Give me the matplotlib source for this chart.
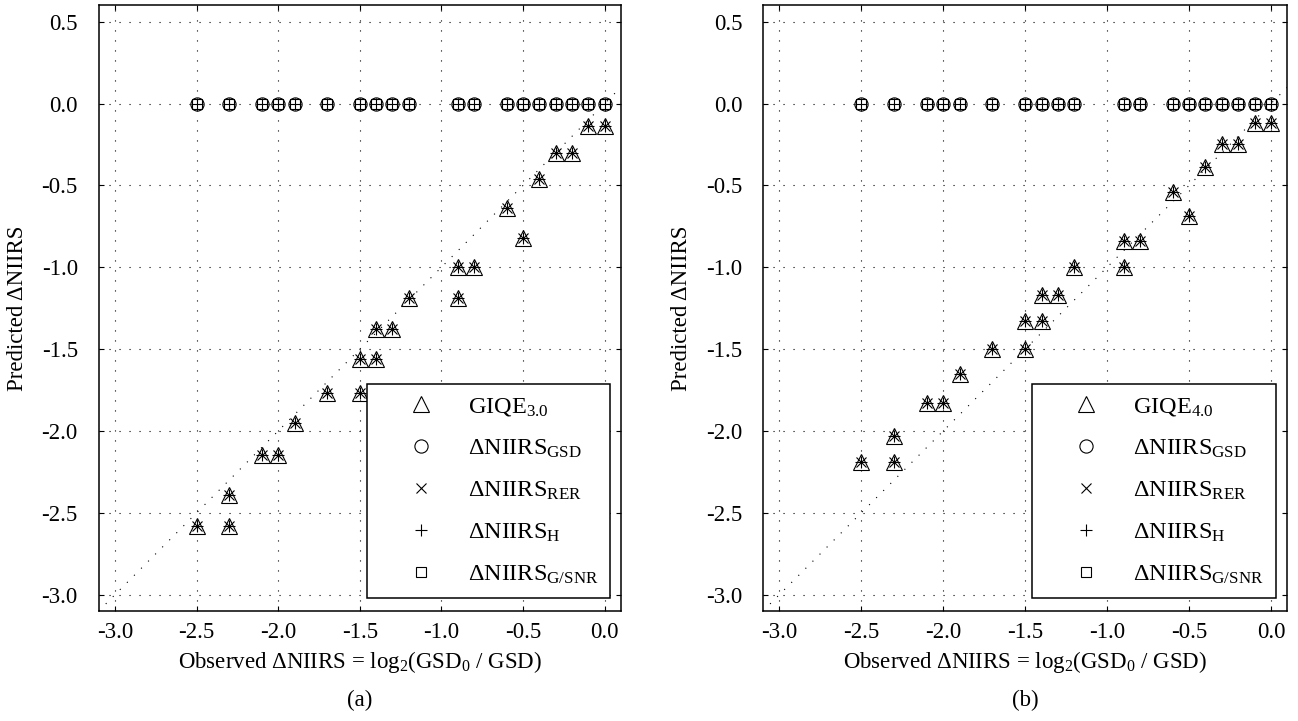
import matplotlib
matplotlib.use("Agg")
import matplotlib.pyplot as plt
import numpy as np

plt.rcParams["font.family"] = ["Liberation Serif", "DejaVu Serif"]
plt.rcParams["mathtext.fontset"] = "custom"
plt.rcParams["mathtext.rm"] = "Liberation Serif"
plt.rcParams["mathtext.it"] = "Liberation Serif:italic"

# Observed ΔNIIRS values of the test images
observed = [-2.5, -2.3, -2.1, -2.0, -1.9, -1.7, -1.5, -1.4, -1.3, -1.2,
            -0.9, -0.8, -0.6, -0.5, -0.4, -0.3, -0.2, -0.1, 0.0]
component_zero = [0.0] * len(observed)

# GIQE predictions (x = observed, y = predicted)
giqe3_x = [-2.5, -2.3, -2.3, -2.1, -2.0, -1.9, -1.7, -1.5, -1.5, -1.4, -1.4, -1.3,
           -1.2, -0.9, -0.9, -0.8, -0.6, -0.5, -0.4, -0.3, -0.2, -0.1, 0.0]
giqe3_y = [-2.58, -2.58, -2.39, -2.15, -2.15, -1.95, -1.77, -1.77, -1.56, -1.56, -1.38, -1.38,
           -1.19, -1.19, -1.00, -1.00, -0.64, -0.82, -0.46, -0.30, -0.30, -0.14, -0.14]

giqe4_x = [-2.5, -2.3, -2.3, -2.1, -2.0, -1.9, -1.7, -1.5, -1.5, -1.4, -1.4, -1.3,
           -1.2, -0.9, -0.9, -0.8, -0.6, -0.5, -0.4, -0.3, -0.2, -0.1, 0.0]
giqe4_y = [-2.19, -2.19, -2.03, -1.83, -1.83, -1.65, -1.50, -1.50, -1.33, -1.33, -1.17, -1.17,
           -1.00, -1.00, -0.84, -0.84, -0.54, -0.69, -0.39, -0.25, -0.25, -0.12, -0.12]

xticks = [-3.0, -2.5, -2.0, -1.5, -1.0, -0.5, 0.0]
yticks = [0.5, 0.0, -0.5, -1.0, -1.5, -2.0, -2.5, -3.0]

W, H = 1298, 721
fig = plt.figure(figsize=(W / 100, H / 100), dpi=100)

dot = (0, (1, 8))
mk = dict(linestyle="none", color="black", mfc="none", mew=0.8)
FS = 16.5


def panel(ax, gx, gy, gname, tag):
    ax.set_xlim(-3.1, 0.1)
    ax.set_ylim(-3.1, 0.6)
    ax.set_xticks(xticks)
    ax.set_yticks(yticks)
    ax.set_xticklabels([f"{v:.1f}" for v in xticks])
    ax.set_yticklabels([f"{v:.1f}" for v in yticks])
    ax.grid(True, color="black", linestyle=dot, linewidth=0.8)
    ax.tick_params(direction="in", top=True, right=True, length=3.5,
                   width=0.8, labelsize=FS)
    ax.tick_params(axis="x", pad=8)
    ax.tick_params(axis="y", pad=15)
    for s in ax.spines.values():
        s.set_linewidth(1.1)

    # identity reference line
    ref = np.array([-3.1, 0.1])
    ax.plot(ref, ref, color="black", linestyle=dot, linewidth=0.8)

    h_giqe, = ax.plot(gx, gy, marker="^", ms=11, **mk)
    h_gsd, = ax.plot(observed, component_zero, marker="o", ms=9.5, **mk)
    h_rer, = ax.plot(gx, gy, marker="x", ms=7, **mk)
    h_h, = ax.plot(observed + gx, component_zero + gy, marker="+", ms=9, **mk)
    h_snr, = ax.plot(observed, component_zero, marker="s", ms=7, **mk)

    labels = [gname,
              "ΔNIIRS$_{\\mathrm{GSD}}$",
              "ΔNIIRS$_{\\mathrm{RER}}$",
              "ΔNIIRS$_{\\mathrm{H}}$",
              "ΔNIIRS$_{\\mathrm{G/SNR}}$"]
    leg = ax.legend([h_giqe, h_gsd, h_rer, h_h, h_snr], labels,
                    loc="lower left", bbox_to_anchor=(0.513, 0.022),
                    borderaxespad=0, fontsize=17.5, frameon=True, fancybox=False,
                    edgecolor="black", framealpha=1, handlelength=3.45,
                    handletextpad=0.2, labelspacing=0.8, borderpad=0.5,
                    numpoints=1)
    leg.get_frame().set_linewidth(1.1)

    ax.set_xlabel("Observed ΔNIIRS = log$_{2}$(GSD$_{0}$ / GSD)", fontsize=FS, labelpad=4)
    ax.set_ylabel("Predicted ΔNIIRS", fontsize=FS, labelpad=10)
    bb = ax.get_position()
    fig.text((bb.x0 + bb.x1) / 2, 1 - 700 / H, tag, ha="center", va="center", fontsize=FS)


axL = fig.add_axes([98.7 / W, 110 / H, 522.3 / W, 605.7 / H])
axR = fig.add_axes([763 / W, 110 / H, 524.4 / W, 605.7 / H])
panel(axL, giqe3_x, giqe3_y, "GIQE$_{3.0}$", "(a)")
panel(axR, giqe4_x, giqe4_y, "GIQE$_{4.0}$", "(b)")

fig.savefig("out.png", dpi=100)
